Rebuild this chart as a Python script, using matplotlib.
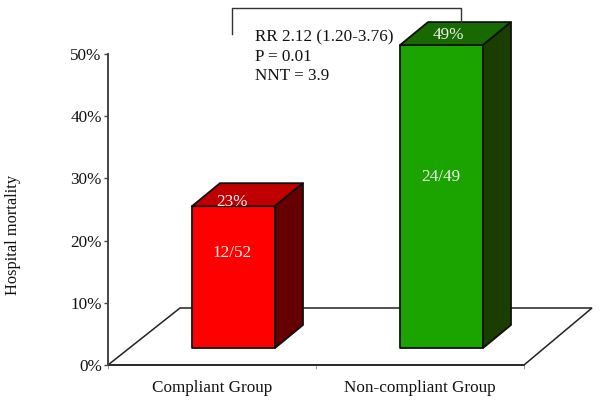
import matplotlib
matplotlib.use("Agg")
import matplotlib.pyplot as plt
from matplotlib.patches import Polygon

plt.rcParams['font.family'] = ['Liberation Serif', 'DejaVu Serif']

categories = ["Compliant Group", "Non-compliant Group"]
values = [22.8, 48.7]
percent_labels = ["23%", "49%"]
count_labels = ["12/52", "24/49"]
front_colors = ["#ff0000", "#1ba300"]
top_colors = ["#c00000", "#186a00"]
side_colors = ["#660000", "#1a3d00"]
yticks = [0, 10, 20, 30, 40, 50]
stats_lines = ["RR 2.12 (1.20-3.76)", "P = 0.01", "NNT = 3.9"]

W, H = 600, 403
X0, X1, Y0, Y1 = 108, 524, 365, 54   # axes frame in pixels
FS = 12.3
fig = plt.figure(figsize=(W / 100, H / 100), dpi=100)
ax = fig.add_axes([X0 / W, 1 - Y0 / H, (X1 - X0) / W, (Y0 - Y1) / H])
ax.set_xlim(0, 2)
ax.set_ylim(0, 50)
px = (X1 - X0) / 2      # pixels per category unit
py = (Y0 - Y1) / 50     # pixels per percent

# floor
fdx, fdy = 72 / px, 57 / py
ax.add_patch(Polygon([(0, 0), (fdx, fdy), (2 + 68 / px, fdy), (2, 0)], closed=True,
                     fc="white", ec="#222222", lw=1.1, clip_on=False, zorder=1))

# 3-D bars
bar_w = 83 / px
bar_shift = 21.5 / px
base = 17 / py
ddx, ddy = 28 / px, 23 / py
pct_x_shift = [-1.5 / px, 6.5 / px]
pct_y_shift = [-6 / py, 0]
cnt_y_frac = [0.67, 0.565]
for i, v in enumerate(values):
    xl = i + 0.5 + bar_shift - bar_w / 2
    xr = xl + bar_w
    yb, yt = base, base + v
    edge = dict(ec="#101010", lw=1.3, joinstyle="round", clip_on=False, zorder=3)
    ax.add_patch(Polygon([(xl, yb), (xr, yb), (xr, yt), (xl, yt)], closed=True, fc=front_colors[i], **edge))
    ax.add_patch(Polygon([(xl, yt), (xr, yt), (xr + ddx, yt + ddy), (xl + ddx, yt + ddy)], closed=True, fc=top_colors[i], **edge))
    ax.add_patch(Polygon([(xr, yb), (xr + ddx, yb + ddy), (xr + ddx, yt + ddy), (xr, yt)], closed=True, fc=side_colors[i], **edge))
    ax.text((xl + xr) / 2 + pct_x_shift[i], yt + ddy * 0.45 + pct_y_shift[i], percent_labels[i],
            color="#f2f2f2", fontsize=FS, ha="center", va="center", zorder=4, clip_on=False)
    ax.text((xl + xr) / 2 - 1 / px, yb + v * cnt_y_frac[i], count_labels[i], color="#f2f2f2", fontsize=FS,
            ha="center", va="center", zorder=4, clip_on=False)

# axes
for s in ("top", "right"):
    ax.spines[s].set_visible(False)
ax.spines["left"].set_color("#444444")
ax.spines["left"].set_linewidth(1.4)
ax.spines["bottom"].set_color("#222222")
ax.spines["bottom"].set_linewidth(1.1)
ax.spines["bottom"].set_zorder(2)
ax.set_yticks(yticks)
ax.set_yticklabels([f"{t}%" for t in yticks], fontsize=FS, color="#111111")
ax.set_xticks([0, 1, 2])
ax.set_xticklabels([])
ax.set_xticks([0.5, 1.5], minor=True)
ax.set_xticklabels(categories, minor=True, fontsize=FS, color="#111111")
ax.tick_params(axis="y", length=3, width=1, color="#444444", pad=1.5)
ax.tick_params(axis="x", which="major", length=3, width=0.7, color="#999999", direction="out")
ax.tick_params(axis="x", which="minor", length=0, pad=10.5)
ax.patch.set_visible(False)

fig.text(13 / W, 1 - 235 / H, "Hospital mortality", rotation=90, fontsize=11.8,
         ha="center", va="center", color="#111111")

# bracket and statistics (figure pixel overlay)
fig.add_artist(plt.Line2D([232 / W, 232 / W, 461 / W, 461 / W],
                          [1 - 34 / H, 1 - 8 / H, 1 - 8 / H, 1 - 22 / H],
                          color="#333333", lw=1.0))
for line, y in zip(stats_lines, [37, 57, 76]):
    fig.text(255 / W, 1 - y / H, line, fontsize=FS, ha="left", va="center", color="#111111")

fig.savefig("out.png", dpi=100)
